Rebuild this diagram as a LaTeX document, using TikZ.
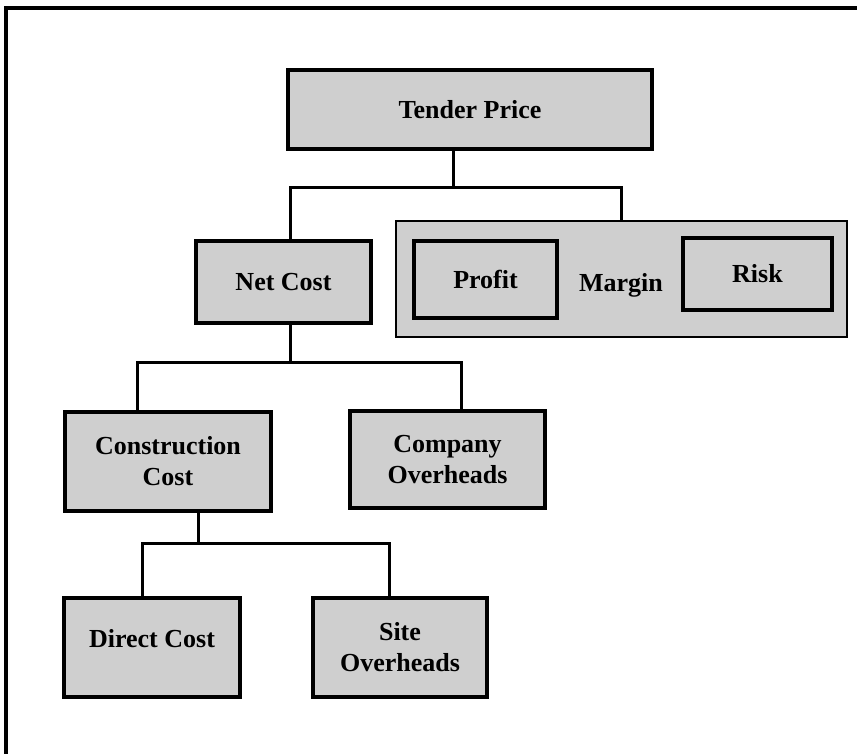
\documentclass[tikz,border=0pt]{standalone}
\usepackage{fontspec}
\setmainfont{Liberation Serif}
\usepackage{tikz}
\usepackage{xcolor}

\begin{document}
\begin{tikzpicture}[x=1pt, y=-1pt, font=\fontsize{26}{31}\selectfont\bfseries,
    box/.style={draw, line width=3.5pt, fill=black!19, align=center, inner sep=0pt},
    link/.style={line width=3pt}]
  \useasboundingbox (0,0) rectangle (857,753);
  % === Ramecek ===
  \draw[line width=3.5pt] (6,760) -- (6,8) -- (865,8);
  % === Uzly ===
  \node[box, minimum width=364, minimum height=79] (tender) at (470,109.5) {Tender Price};
  \node[box, minimum width=175, minimum height=82] (netcost) at (283.5,282) {Net Cost};
  \node[box, line width=2pt, minimum width=451, minimum height=116, text height=26pt, text depth=2pt] (margin) at (621,279) {Margin};
  \node[box, minimum width=143, minimum height=77] (profit) at (485.5,279.5) {Profit};
  \node[box, minimum width=149, minimum height=72] (risk) at (757.5,274) {Risk};
  \node[box, minimum width=206, minimum height=99] (conscost) at (168,461.5) {Construction\\Cost};
  \node[box, minimum width=195, minimum height=97] (compover) at (447.5,459.5) {Company\\Overheads};
  \node[box, minimum width=176, minimum height=99, text height=18pt, text depth=18pt] (directcost) at (152,647.5) {Direct Cost};
  \node[box, minimum width=174, minimum height=99] (siteover) at (400,647.5) {Site\\Overheads};
  % === Spojnice ===
  \coordinate (tjoin) at (453,187);
  \coordinate (njoin) at (290,362);
  \coordinate (cjoin) at (198,543);
  \draw[link] (tjoin |- tender.south) -- (tjoin);
  \draw[link] ([xshift=6.5pt]netcost.north) |- (tjoin) -| (margin.north);
  \draw[link] (njoin |- netcost.south) -- (njoin);
  \draw[link] ([xshift=-31pt]conscost.north) |- (njoin) -| ([xshift=13.5pt]compover.north);
  \draw[link] (cjoin |- conscost.south) -- (cjoin);
  \draw[link] ([xshift=-10pt]directcost.north) |- (cjoin) -| ([xshift=-11pt]siteover.north);
\end{tikzpicture}
\end{document}
